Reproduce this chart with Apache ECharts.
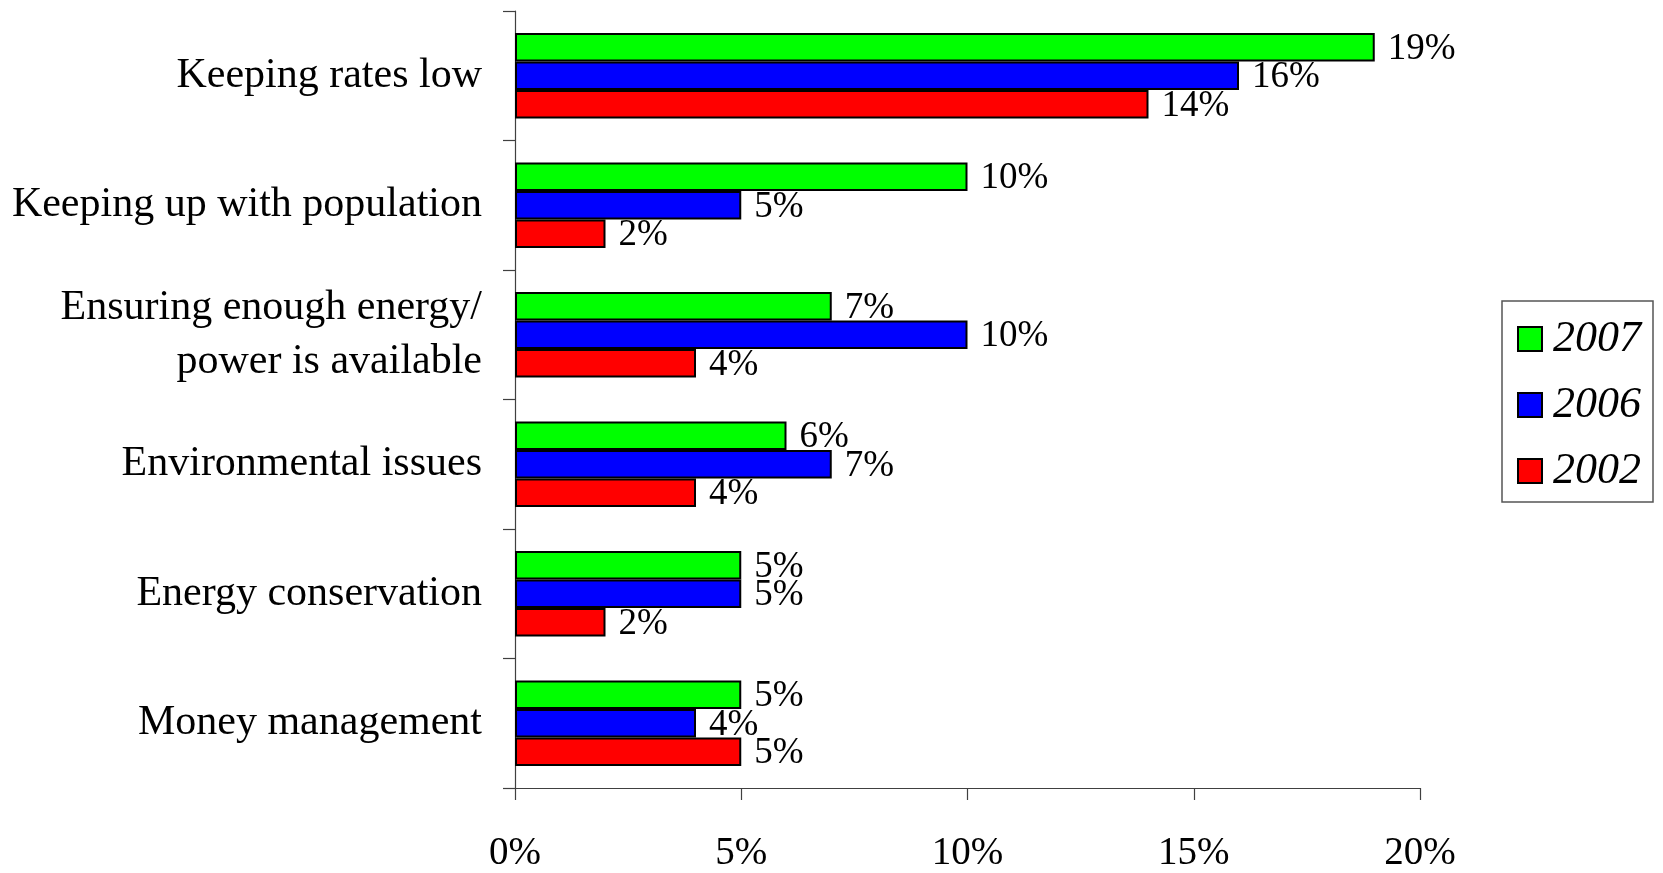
<!DOCTYPE html>
<html>
<head>
<meta charset="utf-8">
<style>
  html, body { margin: 0; padding: 0; background: #fff; }
  #chart { width: 1663px; height: 873px; }
</style>
<script src="https://cdn.jsdelivr.net/npm/echarts@6/dist/echarts.min.js"></script>
</head>
<body>
<div id="chart"></div>
<script>
// Survey priorities, share of respondents (%)
const categories = [
  'Keeping rates low',
  'Keeping up with population',
  'Ensuring enough energy/\npower is available',
  'Environmental issues',
  'Energy conservation',
  'Money management'
];
const years = ['2007', '2006', '2002'];
const values2007 = [19, 10, 7, 6, 5, 5];
const values2006 = [16, 5, 10, 7, 5, 4];
const values2002 = [14, 2, 4, 4, 2, 5];
const xTicks = [0, 5, 10, 15, 20];

const serif = '"Liberation Serif", "Times New Roman", serif';
const colors = ['#00ff00', '#0000ff', '#ff0000'];
const seriesValues = [values2007, values2006, values2002];

const chart = echarts.init(document.getElementById('chart'), null, { renderer: 'canvas' });

chart.setOption({
  animation: false,
  backgroundColor: '#ffffff',
  grid: { left: 515, right: 243, top: 11, bottom: 84, containLabel: false },
  legend: {
    orient: 'vertical',
    left: 1502,
    top: 301,
    data: years,
    icon: 'rect',
    itemWidth: 24,
    itemHeight: 24,
    itemGap: 22,
    padding: [16, 12, 9, 15],
    borderColor: '#555',
    borderWidth: 1.5,
    textStyle: {
      fontFamily: serif, fontStyle: 'italic', fontSize: 44, lineHeight: 40,
      color: '#000', padding: [0, 0, 0, 6]
    }
  },
  xAxis: {
    type: 'value',
    min: xTicks[0],
    max: xTicks[xTicks.length - 1],
    interval: 5,
    splitLine: { show: false },
    axisLine: { show: true, lineStyle: { color: '#404040', width: 1.2 } },
    axisTick: { show: true, length: 12, lineStyle: { color: '#404040', width: 1.2 } },
    axisLabel: { formatter: '{value}%', fontFamily: serif, fontSize: 39, color: '#000', margin: 46 }
  },
  yAxis: {
    type: 'category',
    inverse: true,
    data: categories,
    axisLine: { show: true, lineStyle: { color: '#404040', width: 1.2 } },
    axisTick: { show: true, length: 12, lineStyle: { color: '#404040', width: 1.2 } },
    axisLabel: {
      fontFamily: serif, fontSize: 42, lineHeight: 54, color: '#000',
      margin: 33, align: 'right'
    }
  },
  series: years.map((y, i) => ({
    name: y,
    type: 'bar',
    data: seriesValues[i],
    barWidth: 28.5,
    barGap: '0%',
    itemStyle: { color: colors[i], borderColor: '#000', borderWidth: 2 },
    label: {
      show: true,
      position: 'right',
      distance: 13,
      offset: [0, 2],
      formatter: '{c}%',
      fontFamily: serif,
      fontSize: 37,
      color: '#000'
    }
  }))
});
</script>
</body>
</html>
